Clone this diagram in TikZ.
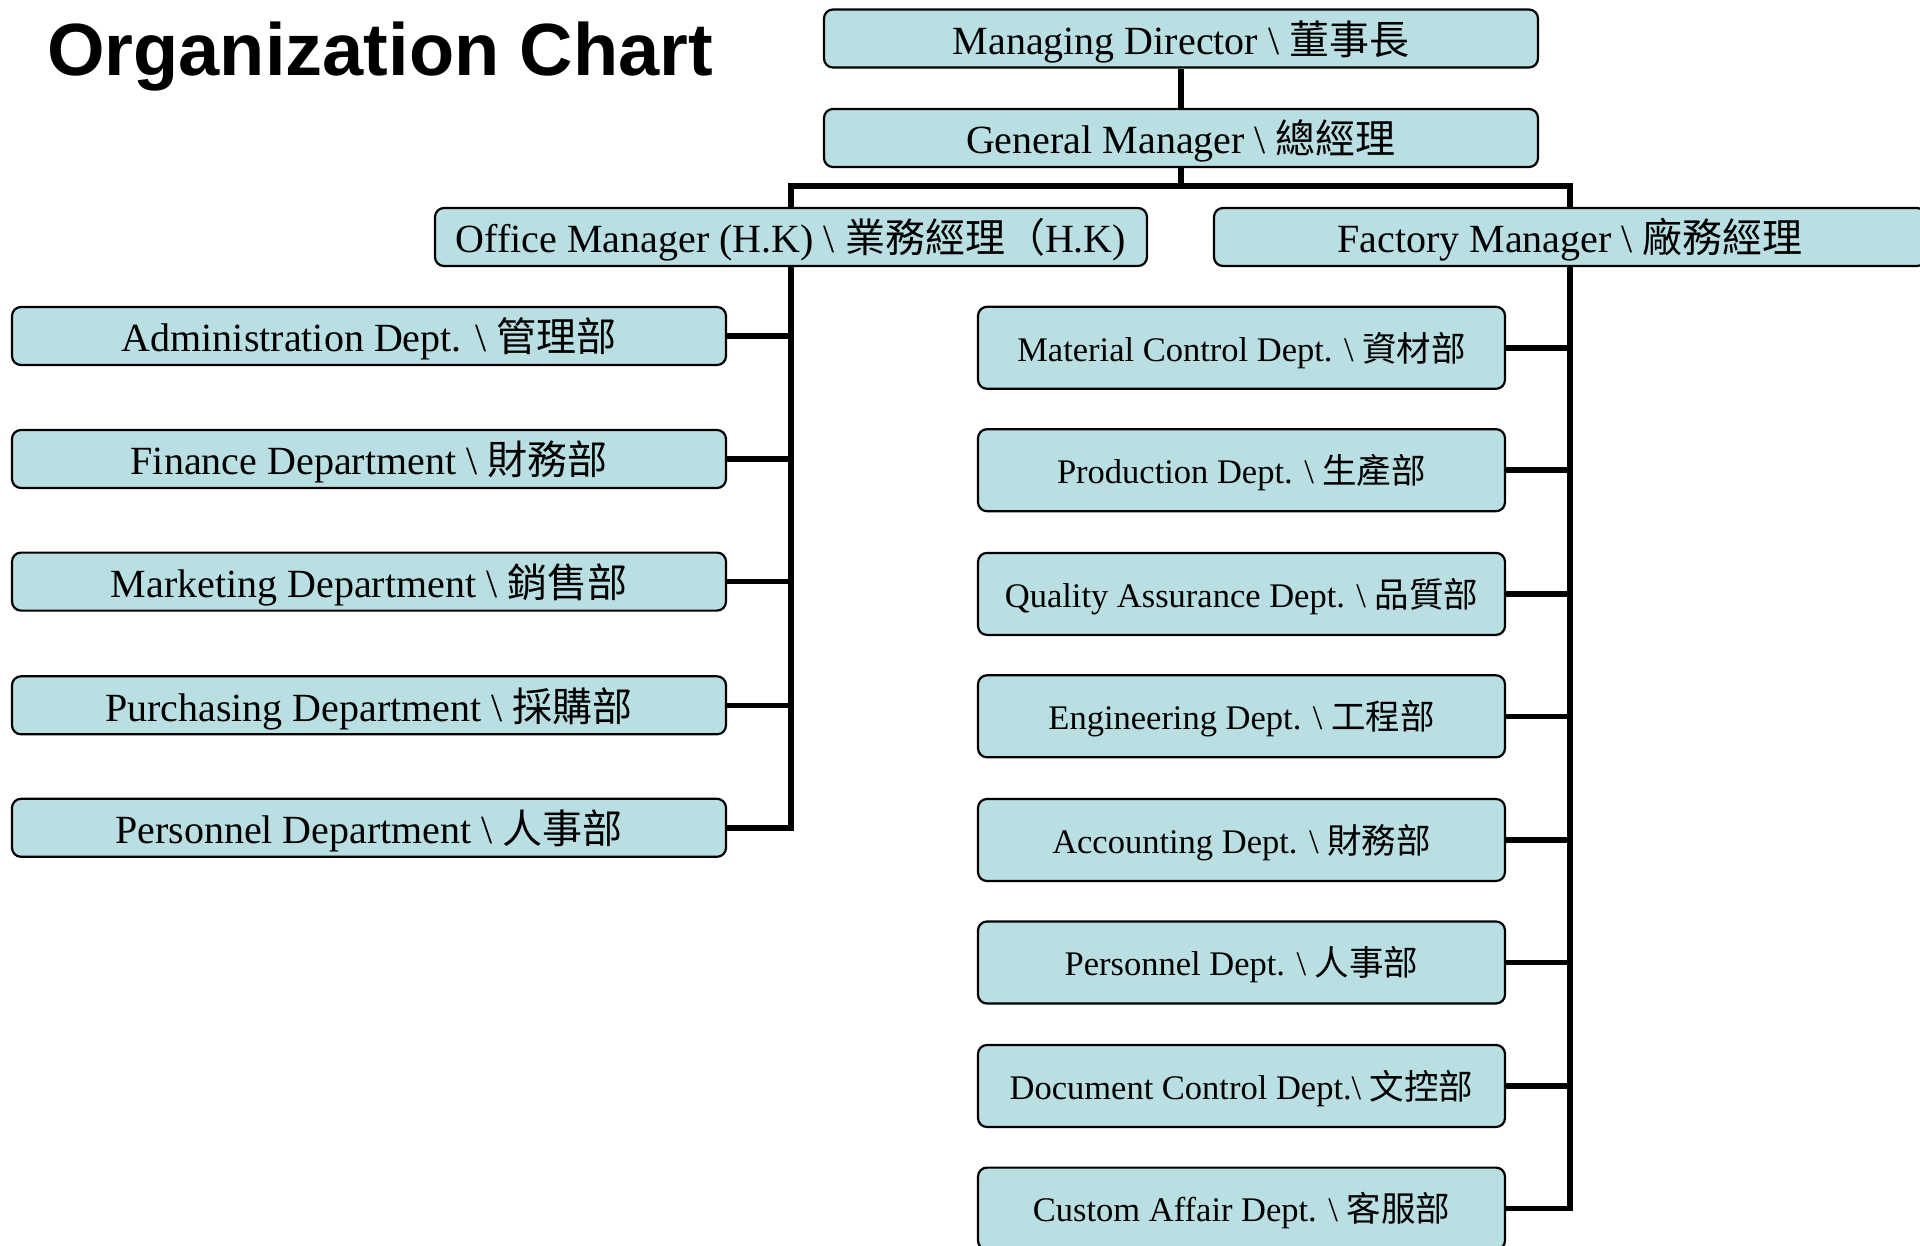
\documentclass[tikz,border=0pt]{standalone}
\usepackage{fontspec}
\setmainfont{Liberation Serif}
\newfontfamily\titlefont{Liberation Sans}
\newfontfamily\cjk{Noto Sans CJK TC}
\usetikzlibrary{backgrounds}
\definecolor{boxfill}{RGB}{185,223,227}
\newcommand{\zh}[1]{{\cjk #1}}
\newcommand{\bs}{\textbackslash}
\begin{document}
\begin{tikzpicture}[x=1pt,y=-1pt,
  boxbase/.style={draw=black, line width=2.2pt, rounded corners=9pt, fill=boxfill, inner sep=0pt, align=center},
  bigbox/.style={boxbase, font=\fontsize{40}{48}\selectfont, minimum width=714pt, minimum height=58pt, text height=38pt, text depth=6pt},
  smallbox/.style={boxbase, font=\fontsize{34.5}{40}\selectfont, minimum width=527pt, minimum height=82pt, text height=32pt, text depth=5.5pt},
  conn/.style={draw=black, line width=5.5pt}]
\useasboundingbox (0,0) rectangle (1920,1246);
\clip (0,0) rectangle (1920,1246);

\node[anchor=base west, inner sep=0pt, font=\titlefont\bfseries\fontsize{74}{80}\selectfont] (title) at (47,76) {Organization Chart};

\node[bigbox] (MD) at (1181,38.5) {Managing Director \bs{} \zh{董事長}};
\node[bigbox] (GM) at (1181,138) {General Manager \bs{} \zh{總經理}};
\node[bigbox, minimum width=712pt] (OM) at (791,237) {Office Manager (H.K) \bs{} \zh{業務經理（}H.K)};
\node[bigbox, minimum width=712pt] (FM) at (1570,237) {Factory Manager \bs{} \zh{廠務經理}};

\node[bigbox] (L1) at (369,336) {Administration Dept. \bs{} \zh{管理部}};
\node[bigbox] (L2) at (369,459) {Finance Department \bs{} \zh{財務部}};
\node[bigbox] (L3) at (369,581.6) {Marketing Department \bs{} \zh{銷售部}};
\node[bigbox] (L4) at (369,705.3) {Purchasing Department \bs{} \zh{採購部}};
\node[bigbox] (L5) at (369,827.8) {Personnel Department \bs{} \zh{人事部}};

\node[smallbox] (R1) at (1241.5,347.8) {Material Control Dept. \bs{} \zh{資材部}};
\node[smallbox] (R2) at (1241.5,470.2) {Production Dept. \bs{} \zh{生產部}};
\node[smallbox] (R3) at (1241.5,593.9) {Quality Assurance Dept. \bs{} \zh{品質部}};
\node[smallbox] (R4) at (1241.5,716.3) {Engineering Dept. \bs{} \zh{工程部}};
\node[smallbox] (R5) at (1241.5,840) {Accounting Dept. \bs{} \zh{財務部}};
\node[smallbox] (R6) at (1241.5,962.5) {Personnel Dept. \bs{} \zh{人事部}};
\node[smallbox] (R7) at (1241.5,1086) {Document Control Dept.\bs{} \zh{文控部}};
\node[smallbox] (R8) at (1241.5,1208.6) {Custom Affair Dept. \bs{} \zh{客服部}};

\coordinate (busL) at (791,186);
\coordinate (busR) at (1570,186);

\begin{scope}[on background layer]
  \fill[white] (0,0) rectangle (1920,1246);
  \draw[conn] (MD.south) -- (GM.north);
  \draw[conn] (GM.south) -- (GM.south |- busL);
  \draw[conn] (OM.north) -- (busL) -- (busR) -- (FM.north);
  \draw[conn] (OM.south) |- (L5.east);
  \draw[conn] (FM.south) |- (R8.east);
  \foreach \n in {L1,L2,L3,L4} { \draw[conn] (\n.east) -- (\n.east -| busL); }
  \foreach \n in {R1,R2,R3,R4,R5,R6,R7} { \draw[conn] (\n.east) -- (\n.east -| busR); }
\end{scope}
\end{tikzpicture}
\end{document}
